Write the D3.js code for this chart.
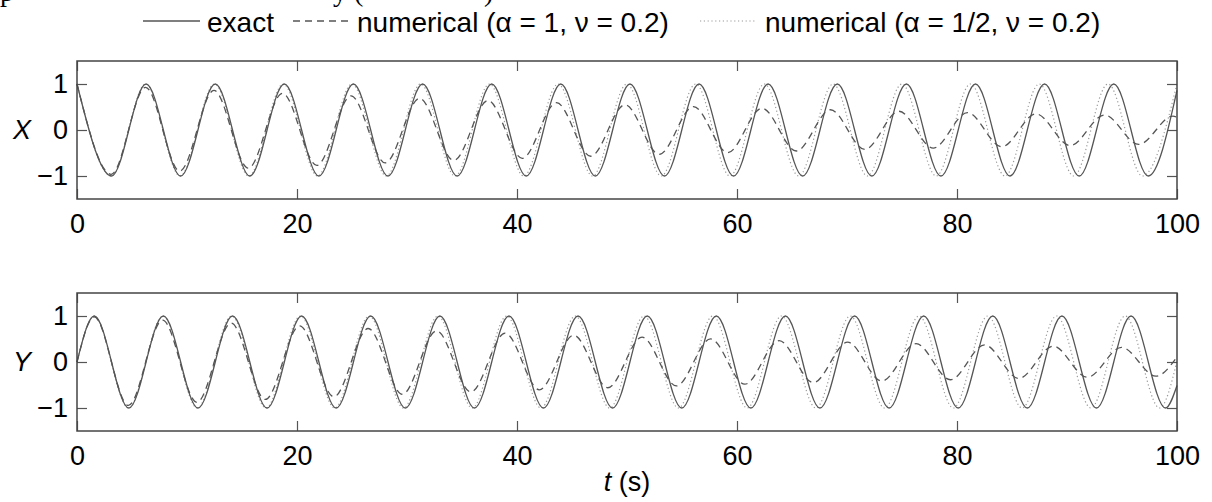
<!DOCTYPE html>
<html>
<head>
<meta charset="utf-8">
<script src="https://cdn.jsdelivr.net/npm/d3@7"></script>
<style>
  body { margin: 0; background: #fff; }
  svg { display: block; }
  text { font-family: "Liberation Sans", Arial, sans-serif; fill: #000; }
</style>
</head>
<body>
<svg id="chart" width="1212" height="502"></svg>
<script>
// extrema (and end points) of each curve
const exactXT = [0, 3.14, 6.28, 9.42, 12.57, 15.71, 18.85, 21.99, 25.13, 28.27, 31.42, 34.56, 37.70, 40.84, 43.98, 47.12, 50.27, 53.41, 56.55, 59.69, 62.83, 65.97, 69.12, 72.26, 75.40, 78.54, 81.68, 84.82, 87.96, 91.11, 94.25, 97.39, 100];
const exactXV = [1, -1, 1, -1, 1, -1, 1, -1, 1, -1, 1, -1, 1, -1, 1, -1, 1, -1, 1, -1, 1, -1, 1, -1, 1, -1, 1, -1, 1, -1, 1, -1, 0.86];

const fullXT = [0, 3.11, 6.23, 9.34, 12.45, 15.57, 18.68, 21.80, 24.91, 28.02, 31.14, 34.25, 37.36, 40.48, 43.59, 46.70, 49.82, 52.93, 56.04, 59.16, 62.27, 65.39, 68.50, 71.61, 74.73, 77.84, 80.95, 84.07, 87.18, 90.29, 93.41, 96.52, 99.63, 100];
const fullXV = [1, -0.963, 0.928, -0.894, 0.861, -0.830, 0.799, -0.770, 0.742, -0.714, 0.688, -0.663, 0.639, -0.615, 0.593, -0.571, 0.550, -0.530, 0.510, -0.492, 0.474, -0.456, 0.440, -0.423, 0.408, -0.393, 0.379, -0.365, 0.351, -0.338, 0.326, -0.314, 0.302, 0.28];

const halfXT = [0, 3.12, 6.25, 9.37, 12.50, 15.62, 18.75, 21.87, 25.00, 28.12, 31.24, 34.37, 37.49, 40.62, 43.74, 46.87, 49.99, 53.12, 56.24, 59.36, 62.49, 65.61, 68.74, 71.86, 74.99, 78.11, 81.23, 84.36, 87.48, 90.61, 93.73, 96.86, 100];
const halfXV = [1, -1, 1, -1, 1, -1, 1, -1, 1, -1, 1, -1, 1, -1, 1, -1, 1, -1, 1, -1, 1, -1, 1, -1, 1, -1, 1, -1, 1, -1, 1, -1, 1];

const exactYT = [0, 1.57, 4.71, 7.85, 11.00, 14.14, 17.28, 20.42, 23.56, 26.70, 29.85, 32.99, 36.13, 39.27, 42.41, 45.55, 48.69, 51.84, 54.98, 58.12, 61.26, 64.40, 67.54, 70.69, 73.83, 76.97, 80.11, 83.25, 86.39, 89.54, 92.68, 95.82, 98.96, 100];
const exactYV = [0, 1, -1, 1, -1, 1, -1, 1, -1, 1, -1, 1, -1, 1, -1, 1, -1, 1, -1, 1, -1, 1, -1, 1, -1, 1, -1, 1, -1, 1, -1, 1, -1, -0.51];

const fullYT = [0, 1.56, 4.67, 7.78, 10.90, 14.01, 17.12, 20.24, 23.35, 26.47, 29.58, 32.69, 35.81, 38.92, 42.03, 45.15, 48.26, 51.37, 54.49, 57.60, 60.71, 63.83, 66.94, 70.06, 73.17, 76.28, 79.40, 82.51, 85.62, 88.74, 91.85, 94.96, 98.08, 100];
const fullYV = [0, 0.981, -0.945, 0.911, -0.877, 0.845, -0.814, 0.784, -0.756, 0.728, -0.701, 0.676, -0.651, 0.627, -0.604, 0.582, -0.560, 0.540, -0.520, 0.501, -0.483, 0.465, -0.448, 0.431, -0.416, 0.400, -0.386, 0.372, -0.358, 0.345, -0.332, 0.320, -0.308, 0.11];

const halfYT = [0, 1.56, 4.69, 7.81, 10.94, 14.06, 17.18, 20.31, 23.43, 26.56, 29.68, 32.81, 35.93, 39.06, 42.18, 45.30, 48.43, 51.55, 54.68, 57.80, 60.93, 64.05, 67.17, 70.30, 73.42, 76.55, 79.67, 82.80, 85.92, 89.05, 92.17, 95.29, 98.42, 100];
const halfYV = [0, 1, -1, 1, -1, 1, -1, 1, -1, 1, -1, 1, -1, 1, -1, 1, -1, 1, -1, 1, -1, 1, -1, 1, -1, 1, -1, 1, -1, 1, -1, 1, -1, 0.02];

const xTicks = [0, 20, 40, 60, 80, 100];
const yTicks = [-1, 0, 1];
const legendLabels = ["exact", "numerical (\u03b1 = 1, \u03bd = 0.2)", "numerical (\u03b1 = 1/2, \u03bd = 0.2)"];

const svg = d3.select("#chart");
const x = d3.scaleLinear().domain([0, 100]).range([77, 1177]);

const styles = [
  { stroke: "#555", width: 1.3, dash: null },
  { stroke: "#555", width: 1.3, dash: "7,5" },
  { stroke: "#9a9a9a", width: 1.2, dash: "1.2,2.6" }
];

// clipped caption line above the figure (only its descenders show)
const caption = [[0, "p"], [333, "y ("], [484, ")"]];
caption.forEach(c => {
  svg.append("text").attr("x", c[0]).attr("y", 1)
    .style("font-family", "'Liberation Serif', serif").style("font-size", "28px").text(c[1]);
});

// legend
const legendPos = [[143, 200, 207], [293, 350, 357], [700, 755, 765]];
legendLabels.forEach((lab, i) => {
  const p = legendPos[i];
  svg.append("line")
    .attr("x1", p[0]).attr("x2", p[1]).attr("y1", 21).attr("y2", 21)
    .attr("stroke", styles[i].stroke).attr("stroke-width", styles[i].width)
    .attr("stroke-dasharray", styles[i].dash);
  svg.append("text").attr("x", p[2]).attr("y", 32)
    .style("font-size", "28px").text(lab);
});

function drawPanel(top, bottom, name, series) {
  const y = d3.scaleLinear().domain([-1.5, 1.5]).range([bottom, top]);
  const g = svg.append("g");

  const line = d3.line()
    .x(d => x(d[0]))
    .y(d => y(d[1]))
    .curve(d3.curveMonotoneX);

  // dotted first, solid on top
  [2, 1, 0].forEach(i => {
    const pts = series[i][0].map((t, j) => [t, series[i][1][j]]);
    g.append("path")
      .attr("d", line(pts))
      .attr("fill", "none")
      .attr("stroke", styles[i].stroke)
      .attr("stroke-width", styles[i].width)
      .attr("stroke-dasharray", styles[i].dash);
  });

  const axisStyle = sel => {
    sel.select(".domain").remove();
    sel.selectAll(".tick line").attr("stroke", "#555").attr("stroke-width", 1.2);
    sel.selectAll("text").style("font-size", "27px").style("font-family", "'Liberation Sans', Arial, sans-serif");
  };

  g.append("g").attr("transform", `translate(0,${bottom})`)
    .call(d3.axisBottom(x).tickValues(xTicks).tickSize(-10).tickPadding(15).tickFormat(d3.format("d")))
    .call(axisStyle);
  g.append("g").attr("transform", `translate(0,${top})`)
    .call(d3.axisTop(x).tickValues(xTicks).tickSize(-10).tickFormat(""))
    .call(axisStyle);
  g.append("g").attr("transform", `translate(${x(0)},0)`)
    .call(d3.axisLeft(y).tickValues(yTicks).tickSize(-10).tickPadding(9).tickFormat(d3.format("d")))
    .call(axisStyle);
  g.append("g").attr("transform", `translate(${x(100)},0)`)
    .call(d3.axisRight(y).tickValues(yTicks).tickSize(-10).tickFormat(""))
    .call(axisStyle);

  g.append("rect")
    .attr("x", x(0)).attr("y", top)
    .attr("width", x(100) - x(0)).attr("height", bottom - top)
    .attr("fill", "none").attr("stroke", "#444").attr("stroke-width", 1.5);

  g.append("text")
    .attr("x", 22).attr("y", y(0)).attr("dy", "0.35em")
    .attr("text-anchor", "middle")
    .style("font-size", "27px").style("font-style", "italic")
    .text(name);
}

drawPanel(61, 199, "X", [[exactXT, exactXV], [fullXT, fullXV], [halfXT, halfXV]]);
drawPanel(293, 431, "Y", [[exactYT, exactYV], [fullYT, fullYV], [halfYT, halfYV]]);

const tl = svg.append("text").attr("x", 627).attr("y", 491).attr("text-anchor", "middle")
  .style("font-size", "27px");
tl.append("tspan").style("font-style", "italic").text("t");
tl.append("tspan").text(" (s)");
</script>
</body>
</html>
